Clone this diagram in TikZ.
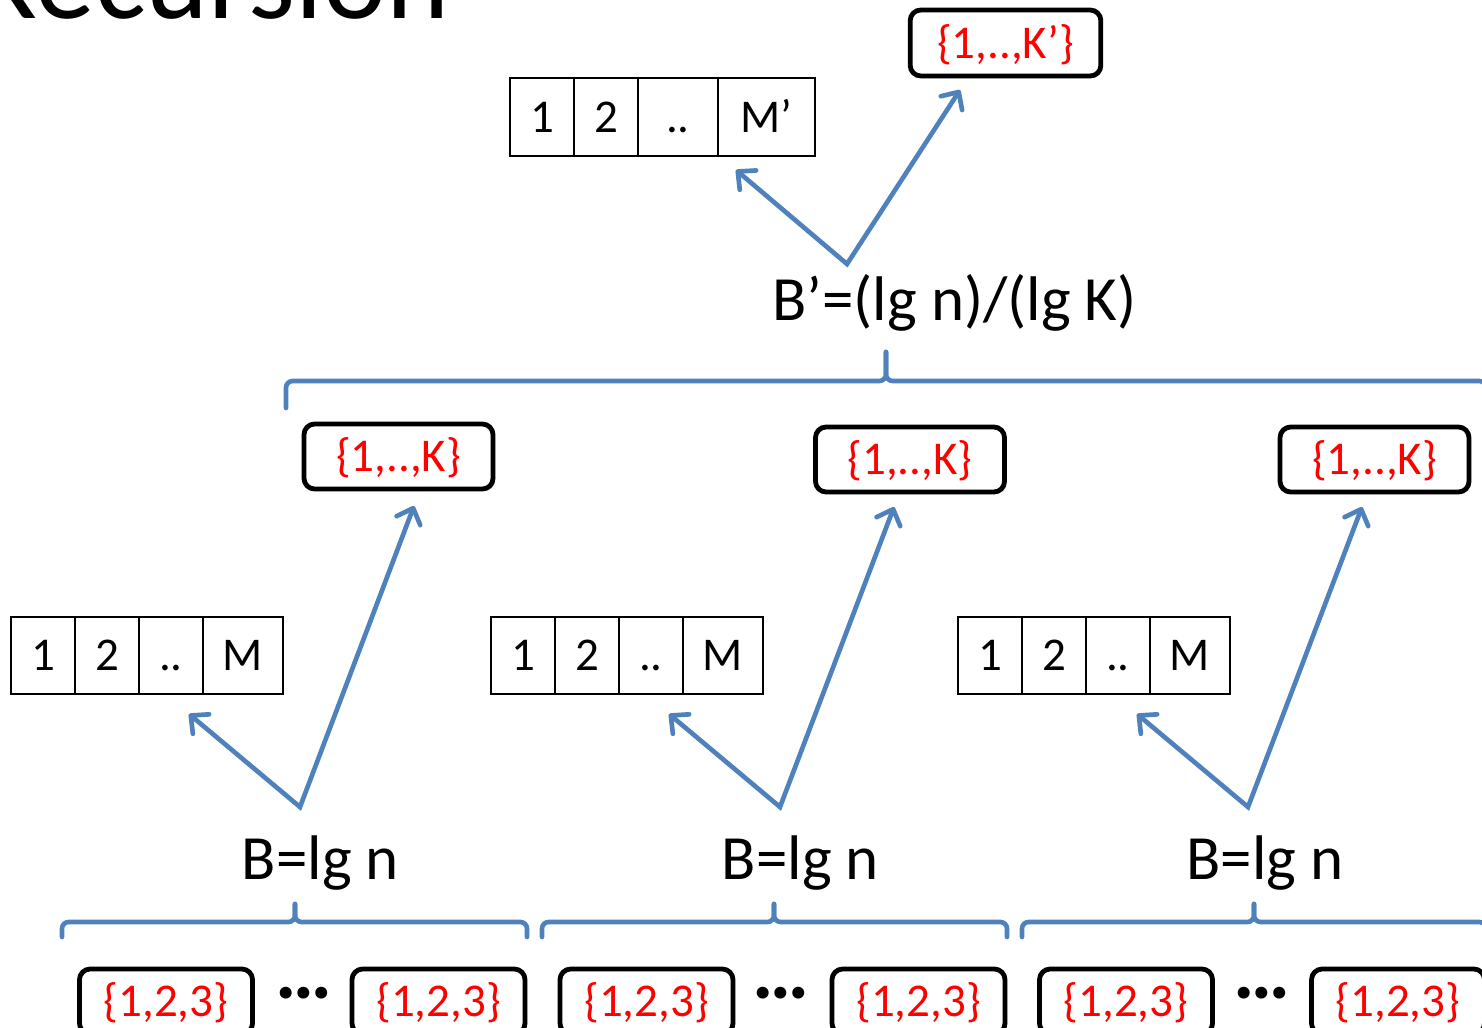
\documentclass[tikz,border=0pt]{standalone}
\usepackage{fontspec}
\setmainfont{Carlito}
\usetikzlibrary{arrows.meta,shadows}
\definecolor{linkblue}{RGB}{79,129,189}
\definecolor{setred}{RGB}{255,0,0}
\begin{document}
% one unit = one pixel of a 1482 x 1028 canvas, y pointing down
\begin{tikzpicture}[x=0.75pt,y=-0.75pt,
  cellfont/.style={font=\fontsize{35.25pt}{40pt}\selectfont},
  cell/.style={cellfont,draw=black,line width=1.5pt,inner sep=0pt,
    minimum height=57.75pt,text height=22.7pt,text depth=0pt},
  setbox/.style={cellfont,draw=black,line width=3.6pt,rounded corners=8pt,
    fill=white,text=setred,inner sep=0pt,text height=22.7pt,text depth=0pt,
    minimum height=48.75pt,
    drop shadow={shadow xshift=1.5pt,shadow yshift=-1.5pt,opacity=0.22,fill=black}},
  bigtext/.style={font=\fontsize{47.25pt}{54pt}\selectfont,inner sep=0pt,anchor=base},
  gap/.style={font=\fontsize{60pt}{66pt}\selectfont\bfseries,inner sep=0pt,anchor=base},
  link/.style={draw=linkblue,line width=3.5pt,line join=miter,
    {Straight Barb[length=10pt,width=19pt,round]}-{Straight Barb[length=10pt,width=19pt,round]}},
  brace/.style={draw=linkblue,line width=3.5pt,rounded corners=5pt,line cap=round},
  title/.style={font=\fontsize{90pt}{100pt}\selectfont,inner sep=0pt,anchor=base west}]
\useasboundingbox (0,0) rectangle (1482,1028);
\clip (0,0) rectangle (1482,1028);

% heading, mostly above the page
\node[title] (head) at (-28,18) {Recursion};

% ---------- upper level ----------
\node[cell,minimum width=48pt,minimum height=58.5pt] (t1) at (542,117) {1};
\node[cell,minimum width=48pt,minimum height=58.5pt] (t2) at (606,117) {2};
\node[cell,minimum width=60pt,minimum height=58.5pt] (t3) at (678,117) {..};
\node[cell,minimum width=72.75pt,minimum height=58.5pt] (t4) at (766.5,117) {M’};

\node[setbox,minimum width=143pt,minimum height=49.5pt] (kp) at (1005.5,43) {\{1,..,K’\}};

\node[bigtext] (bp) at (954.5,320) {B’=(lg n)/(lg K)};

\coordinate (v0) at (847,264);
\coordinate (a0) at (736,170);
\coordinate (b0) at (960,90);
\path[link] (a0) -- (v0) -- (b0);

% upper brace
\draw[brace] (286,408) -- (286,381) -- (886,381) -- (886,352);
\draw[brace] (886,352) -- (886,381) -- (1486,381) -- (1486,408);

% ---------- lower level ----------
\foreach \i/\dx in {1/0,2/480,3/947}{
  \node[cell,minimum width=48pt] (c\i a) at (43+\dx,655.5) {1};
  \node[cell,minimum width=48pt] (c\i b) at (107+\dx,655.5) {2};
  \node[cell,minimum width=48pt] (c\i c) at (171+\dx,655.5) {..};
  \node[cell,minimum width=60pt] (c\i d) at (243+\dx,655.5) {M};
}

\node[setbox,minimum width=141.75pt] (k1) at (398.5,456.5) {\{1,..,K\}};
\node[setbox,minimum width=141.75pt] (k2) at (910,459.5) {\{1,..,K\}};
\node[setbox,minimum width=141.75pt] (k3) at (1374.5,459.5) {\{1,..,K\}};

\node[bigtext] (bl1) at (320.5,879) {B=lg n};
\node[bigtext] (bl2) at (800.5,879) {B=lg n};
\node[bigtext] (bl3) at (1265,879) {B=lg n};

\coordinate (v1) at (300,807);
\coordinate (a1) at (189,714);
\coordinate (b1) at (414,506);
\coordinate (v2) at (780,807);
\coordinate (a2) at (669,714);
\coordinate (b2) at (894,507);
\coordinate (v3) at (1248,807);
\coordinate (a3) at (1137,714);
\coordinate (b3) at (1362,507);
\path[link] (a1) -- (v1) -- (b1);
\path[link] (a2) -- (v2) -- (b2);
\path[link] (a3) -- (v3) -- (b3);

% lower braces
\draw[brace] (62,937) -- (62,922) -- (295,922) -- (295,904);
\draw[brace] (295,904) -- (295,922) -- (527,922) -- (527,937);
\draw[brace] (542,937) -- (542,922) -- (774,922) -- (774,904);
\draw[brace] (774,904) -- (774,922) -- (1007,922) -- (1007,937);
\draw[brace] (1022,937) -- (1022,922) -- (1254,922) -- (1254,904);
\draw[brace] (1254,904) -- (1254,922) -- (1486,922) -- (1486,937);

% leaves
\node[setbox,minimum width=129.75pt] (s1) at (166,1001.5) {\{1,2,3\}};
\node[setbox,minimum width=129.75pt] (s2) at (438.5,1001.5) {\{1,2,3\}};
\node[setbox,minimum width=129.75pt] (s3) at (646.5,1001.5) {\{1,2,3\}};
\node[setbox,minimum width=129.75pt] (s4) at (918.5,1001.5) {\{1,2,3\}};
\node[setbox,minimum width=129.75pt] (s5) at (1126,1001.5) {\{1,2,3\}};
\node[setbox,minimum width=129.75pt] (s6) at (1398,1001.5) {\{1,2,3\}};

\node[gap] (g1) at (303.5,998) {…};
\node[gap] (g2) at (781,998) {…};
\node[gap] (g3) at (1261.5,998) {…};
\end{tikzpicture}
\end{document}
